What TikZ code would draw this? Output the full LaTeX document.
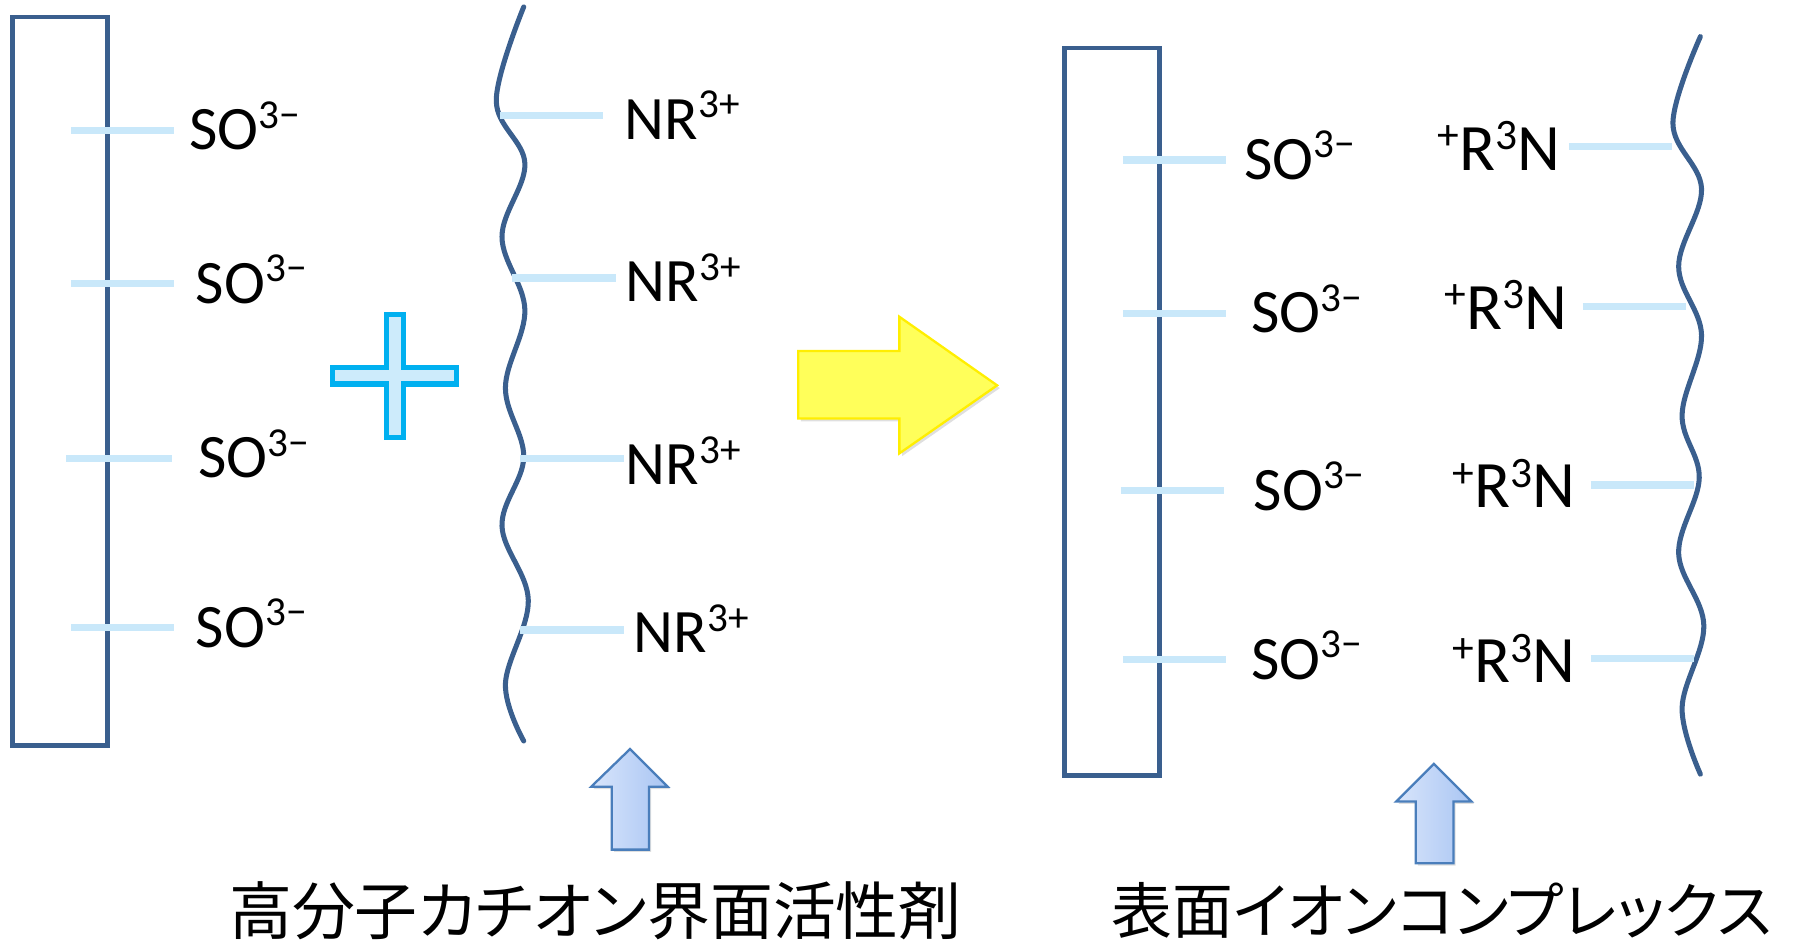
\documentclass[tikz,border=0pt]{standalone}
\usepackage{fontspec}
\setmainfont{Carlito}
\newfontfamily\jp[RawFeature=+palt]{Noto Sans CJK JP}
\usetikzlibrary{shadows}
\definecolor{darkb}{HTML}{3A5F8E}
\definecolor{lineb}{HTML}{C9E8FA}
\definecolor{plusfill}{HTML}{CDEBFB}
\definecolor{plusdraw}{HTML}{00B0F0}
\definecolor{yfill}{HTML}{FFFF5A}
\definecolor{ydraw}{HTML}{FFEE00}
\definecolor{ua}{HTML}{D8E5FB}
\definecolor{ub}{HTML}{A9C5F3}
\definecolor{udraw}{HTML}{4A7EBB}
\newcommand\supA[1]{\raisebox{9.5pt}{\fontsize{18}{18}\selectfont #1}}
\newcommand\supB[1]{\raisebox{9pt}{\fontsize{19}{19}\selectfont #1}}
\begin{document}
\begin{tikzpicture}[x=0.5pt,y=-0.5pt,
  frame/.style={draw=darkb,line width=2pt},
  wave/.style={draw=darkb,line width=2.2pt,line cap=round},
  bond/.style={draw=lineb,line width=3.2pt},
  lbl/.style={anchor=base west,inner sep=0pt,font=\fontsize{27}{31}\selectfont},
  rlbl/.style={anchor=base east,inner sep=0pt,font=\fontsize{29}{33}\selectfont},
  jlbl/.style={anchor=base west,inner sep=0pt,font=\jp\fontsize{26.6}{30}\selectfont},
  uparrow/.style={draw=udraw,line width=1pt,left color=ua,right color=ub,
    drop shadow={shadow xshift=1pt,shadow yshift=-1pt,opacity=0.25}},
]
\useasboundingbox (0,0) rectangle (1568,824);

% left surface
\draw[frame] (11,15) rectangle (94,652);
% left polymer chain
\draw[wave] plot[smooth,tension=0.6] coordinates {(458,6) (434,88) (459,143) (439,207) (459,271) (442,339) (458,400) (439,460) (462,525) (442,598) (458,648)};

% right surface
\draw[frame] (931,42) rectangle (1014,678);
% right polymer chain
\draw[wave] plot[smooth,tension=0.6] coordinates {(1487,32) (1463,108) (1488,165) (1468,233) (1488,293) (1471,363) (1486,418) (1468,484) (1490,547) (1471,619) (1487,677)};

% bonds
\draw[bond] (62,114) -- (152,114);
\draw[bond] (62,248) -- (152,248);
\draw[bond] (58,401) -- (150,401);
\draw[bond] (62,549) -- (152,549);
\draw[bond] (437,101) -- (527,101);
\draw[bond] (448,243) -- (539,243);
\draw[bond] (455,401) -- (546,401);
\draw[bond] (455,551) -- (546,551);
\draw[bond] (982,140) -- (1072,140);
\draw[bond] (982,274) -- (1072,274);
\draw[bond] (980,429) -- (1070,429);
\draw[bond] (982,577) -- (1072,577);
\draw[bond] (1372,128) -- (1462,128);
\draw[bond] (1384,268) -- (1474,268);
\draw[bond] (1391,424) -- (1481,424);
\draw[bond] (1391,576) -- (1481,576);

% labels
\node[lbl] (so1) at (165,131) {SO\supA{3−}};
\node[lbl] (so2) at (171,265) {SO\supA{3−}};
\node[lbl] (so3) at (173,418) {SO\supA{3−}};
\node[lbl] (so4) at (171,566) {SO\supA{3−}};
\node[lbl] (nr1) at (546,122) {NR\supA{3+}};
\node[lbl] (nr2) at (547,264) {NR\supA{3+}};
\node[lbl] (nr3) at (547,424) {NR\supA{3+}};
\node[lbl] (nr4) at (554,571) {NR\supA{3+}};
\node[lbl] (so5) at (1088,157) {SO\supA{3−}};
\node[lbl] (so6) at (1094,291) {SO\supA{3−}};
\node[lbl] (so7) at (1096,446) {SO\supA{3−}};
\node[lbl] (so8) at (1094,594) {SO\supA{3−}};
\node[rlbl] (rn1) at (1365,149) {\supB{+}R\supB{3}N};
\node[rlbl] (rn2) at (1371,288) {\supB{+}R\supB{3}N};
\node[rlbl] (rn3) at (1378,444) {\supB{+}R\supB{3}N};
\node[rlbl] (rn4) at (1378,597) {\supB{+}R\supB{3}N};

% plus sign
\draw[draw=plusdraw,fill=plusfill,line width=2.2pt,line join=miter]
  (338,274.8) -- (352.8,274.8) -- (352.8,321.2) -- (399.2,321.2) -- (399.2,335.8)
  -- (352.8,335.8) -- (352.8,382.6) -- (338,382.6) -- (338,335.8) -- (290.8,335.8)
  -- (290.8,321.2) -- (338,321.2) -- cycle;

% yellow arrow
\draw[draw=ydraw,fill=yfill,line width=1pt,
  drop shadow={shadow xshift=1.2pt,shadow yshift=-1.2pt,opacity=0.25}]
  (698,307) -- (786.5,307) -- (786.5,277) -- (872,337) -- (786.5,396.5)
  -- (786.5,366) -- (698,366) -- cycle;

% up arrows
\draw[uparrow] (551,655) -- (584,688) -- (567.5,688) -- (567.5,743) -- (535,743)
  -- (535,688) -- (517,688) -- cycle;
\draw[uparrow] (1254,668) -- (1287,701) -- (1271,701) -- (1271,755) -- (1238,755)
  -- (1238,701) -- (1221,701) -- cycle;

% captions
\node[jlbl,font=\jp\fontsize{27.5}{31}\selectfont] (jl) at (200,817) {高分子カチオン界面活性剤};
\node[jlbl] (jr) at (972,816) {表面イオンコンプレックス};
\end{tikzpicture}
\end{document}
